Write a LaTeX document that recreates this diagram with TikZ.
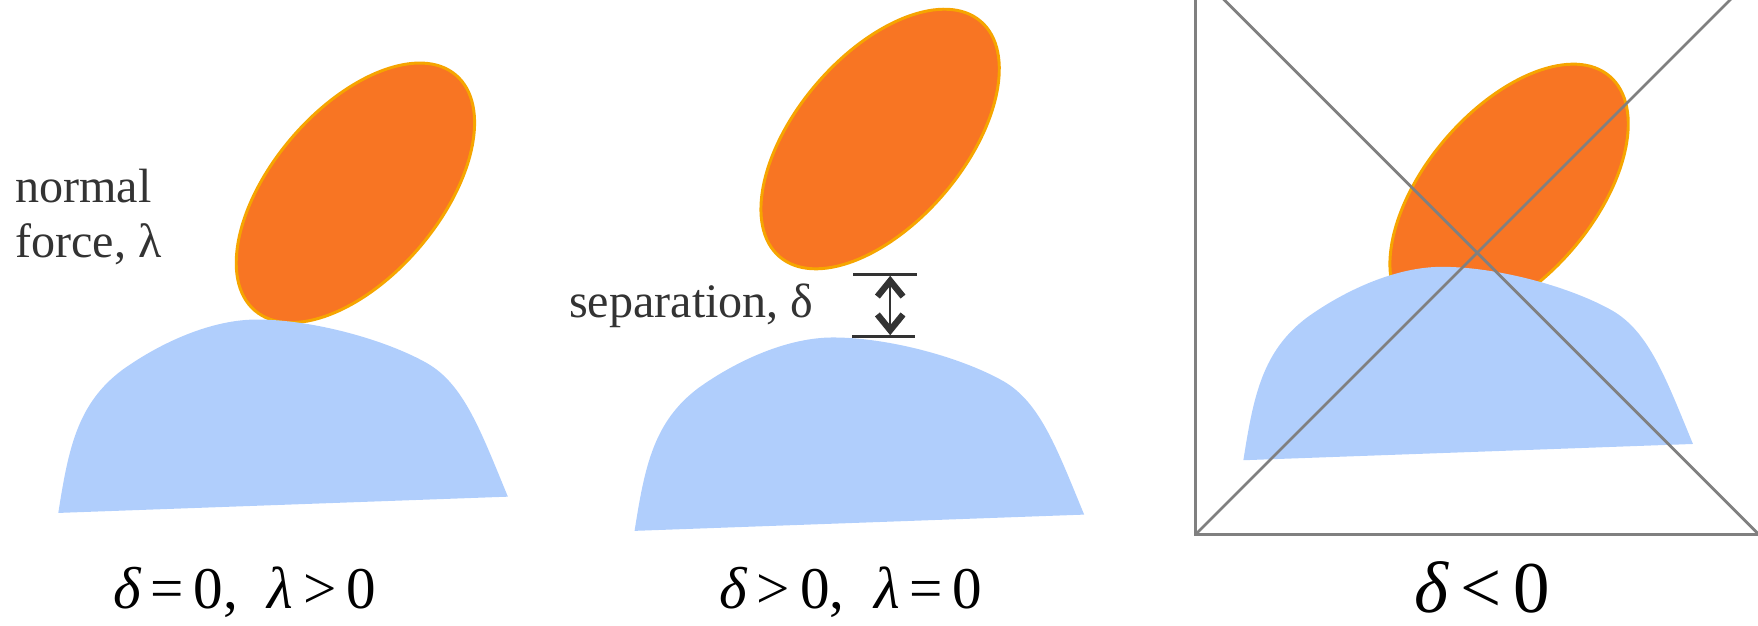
\documentclass[tikz,border=0pt]{standalone}
\usepackage{fontspec}
\setmainfont{Liberation Serif}
\usetikzlibrary{arrows.meta}
\definecolor{orfill}{HTML}{F87523}
\definecolor{oredge}{HTML}{F6A500}
\definecolor{bluefill}{HTML}{B0CEFC}
\definecolor{txtgray}{HTML}{333333}
\definecolor{boxgray}{HTML}{808080}
\newcommand\myegg[1]{\path[egg, rotate around={49.5:(#1)}] (#1) ellipse [x radius=1.38cm, y radius=0.75cm];}
\newcommand\myblob[1]{\fill[blob, shift={(#1)}] (-177,172.5) .. controls (-168,115) and (-160,75) .. (-120,45) .. controls (-85,20) and (-40,0) .. (0,0) .. controls (50,0) and (115,18) .. (152,39) .. controls (185,58) and (200,100) .. (224,158) -- cycle;}
\begin{document}
\begin{tikzpicture}[x=0.01cm, y=-0.01cm,
  egg/.style={fill=orfill, draw=oredge, line width=0.75pt},
  blob/.style={fill=bluefill},
  note/.style={text=txtgray, font=\fontsize{12.2}{14}\selectfont, inner sep=0pt, anchor=base west},
  caption/.style={text=black, font=\fontsize{15}{18}\selectfont, inner sep=0pt, anchor=base},
  bigcaption/.style={text=black, font=\fontsize{18.5}{22}\selectfont, inner sep=0pt, anchor=base},
  crossline/.style={draw=boxgray, line width=0.7pt},
  dimbar/.style={draw=txtgray, line width=0.6pt},
  dimarrow/.style={draw=txtgray, line width=0.6pt, {Straight Barb[length=4pt, width=6.5pt, line width=1.6pt]}-{Straight Barb[length=4pt, width=6.5pt, line width=1.6pt]}}]
\useasboundingbox (0,0) rectangle (1568,558);

% left panel
\myegg{317,172}
\myblob{229,285}
\node[note] (normal) at (13,181) {normal};
\node[note] (force) at (13,230) {force, λ};
\node[caption] (cap1) at (218,543) {{\itshape δ}\,=\,0,\ \ {\itshape λ}\,>\,0};

% middle panel
\myegg{785,124}
\myblob{743,301}
\node[note] (sep) at (507,283) {separation, δ};
\coordinate (bt1) at (761,245);
\coordinate (bt2) at (818,245);
\coordinate (bb1) at (760,300);
\coordinate (bb2) at (816,300);
\coordinate (atop) at (794,246);
\coordinate (abot) at (794,299);
\draw[dimbar] (bt1) -- (bt2);
\draw[dimbar] (bb1) -- (bb2);
\draw[dimarrow] (atop) -- (abot);
\node[caption] (cap2) at (759,543) {{\itshape δ}\,>\,0,\ \ {\itshape λ}\,=\,0};

% right panel
\myegg{1346,173}
\myblob{1286,238}
\begin{scope}
\clip (0,0) rectangle (1568,558);
\coordinate (tl) at (1066,-26);
\coordinate (bl) at (1066,477);
\coordinate (br) at (1569,477);
\coordinate (tr) at (1569,-26);
\draw[crossline] (tl) -- (bl) -- (br) -- (tr) -- cycle;
\draw[crossline] (tl) -- (br);
\draw[crossline] (bl) -- (tr);
\end{scope}
\node[bigcaption] (cap3) at (1322,546) {{\itshape δ}\,<\,0};
\end{tikzpicture}
\end{document}
